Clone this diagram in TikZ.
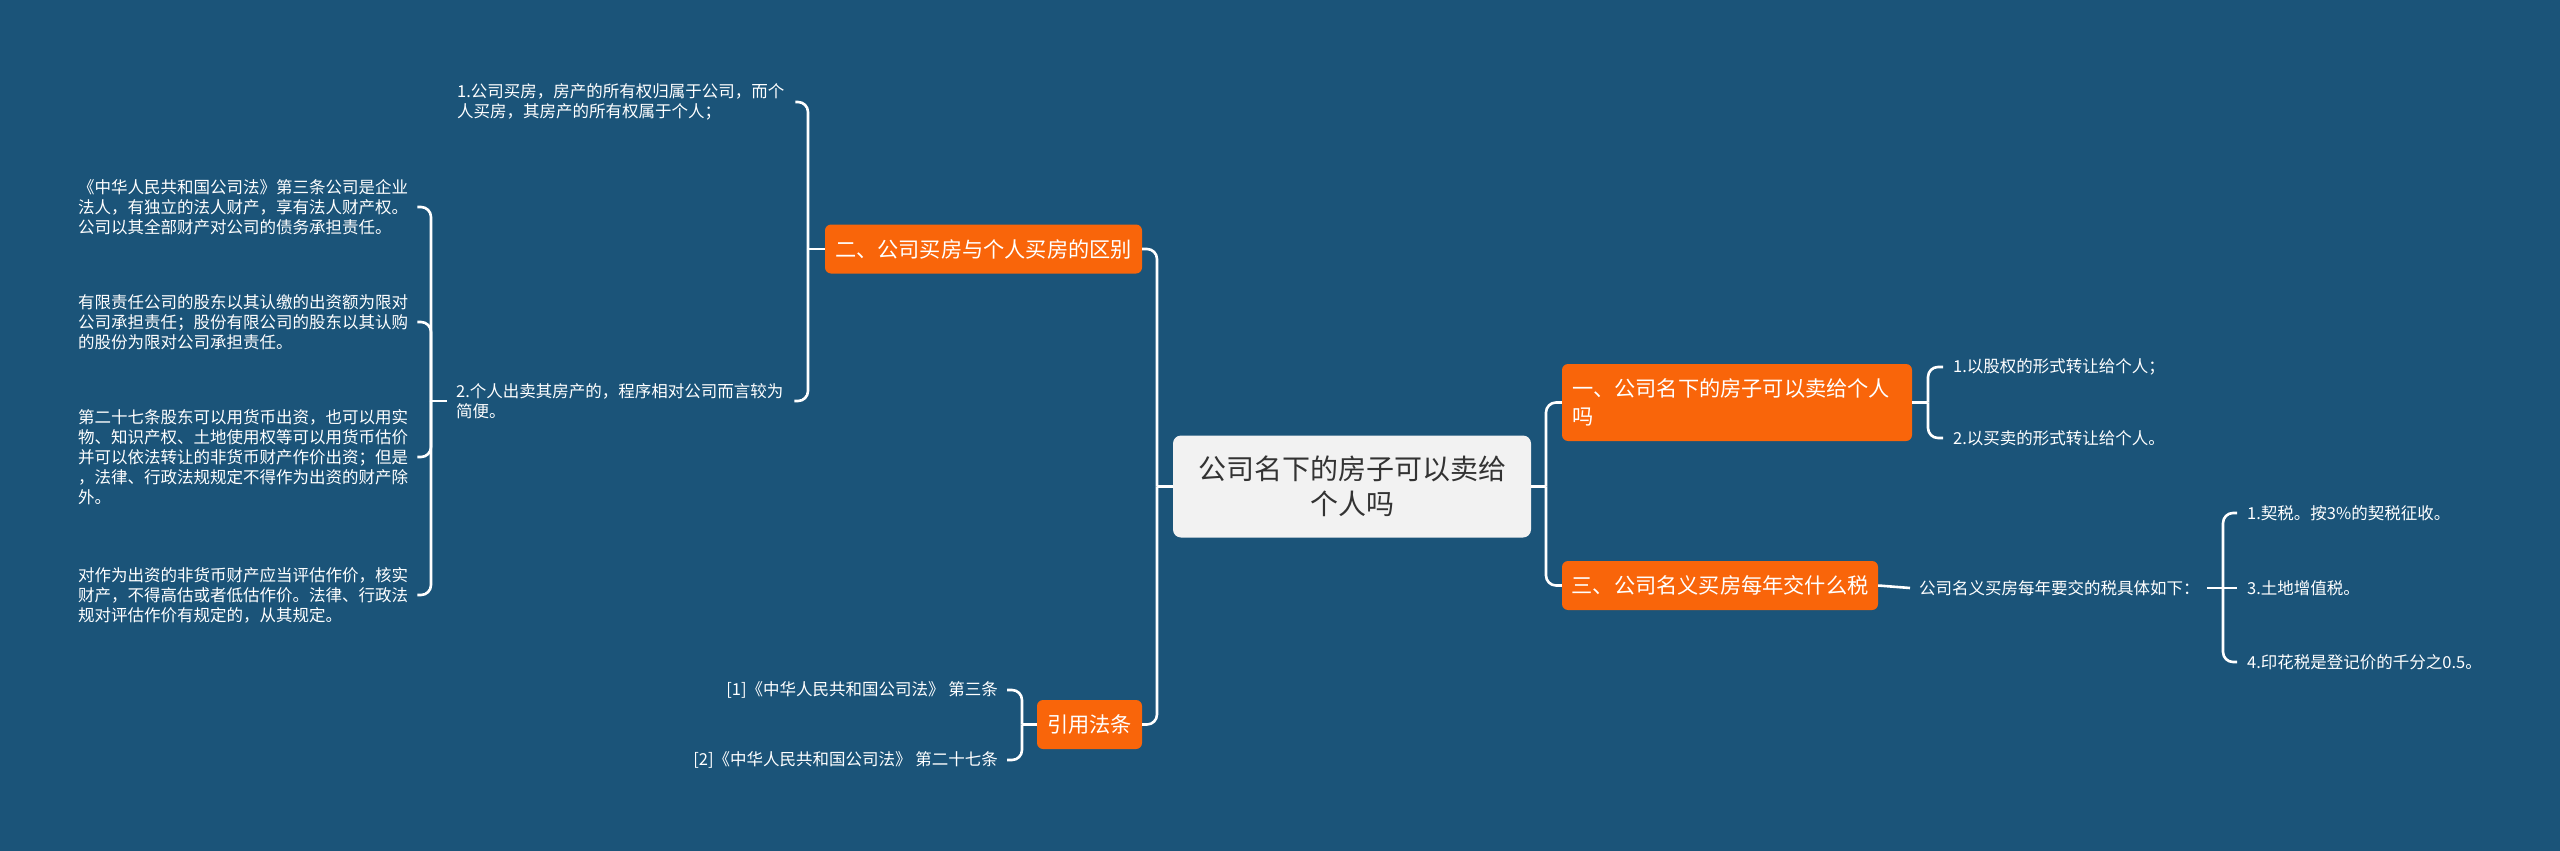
\documentclass[tikz,border=0pt]{standalone}
\usepackage{fontspec}
\setmainfont{Noto Sans CJK SC}
\definecolor{bg}{RGB}{27,84,121}
\definecolor{org}{RGB}{249,101,10}
\definecolor{rootfill}{RGB}{242,242,242}
\definecolor{roottext}{RGB}{51,51,51}
\begin{document}
\begin{tikzpicture}[x=1pt,y=-1pt,
 conn/.style={draw=white,line width=2.6pt,rounded corners=10pt},
 rootbox/.style={fill=rootfill,text=roottext,rounded corners=8pt,minimum width=358pt,minimum height=102pt,align=center,font=\fontsize{28}{35}\selectfont,inner sep=0pt},
 topic/.style={fill=org,text=white,rounded corners=6pt,font=\fontsize{21.2}{28}\selectfont,inner sep=0pt,minimum height=49pt},
 leaf/.style={text=white,font=\fontsize{16.5}{20}\selectfont,inner sep=0pt},
 ]
\fill[bg] (0,0) rectangle (2560,851);
\useasboundingbox (0,0) rectangle (2560,851);

% root and main topics
\node[rootbox] (root) at (1352,486.5) {公司名下的房子可以卖给\\个人吗};
\node[topic,minimum width=317pt] (b2) at (983.5,249) {二、公司买房与个人买房的区别};
\node[topic,minimum width=350pt,minimum height=77pt,text width=330pt,align=left] (b1) at (1737,402.5) {一、公司名下的房子可以卖给个人\\吗};
\node[topic,minimum width=316pt] (b3) at (1720,585.5) {三、公司名义买房每年交什么税};
\node[topic,minimum width=105pt] (b4) at (1089.5,724.5) {引用法条};

% right leaves
\node[leaf,anchor=west] (l1a) at (1953,367) {1.以股权的形式转让给个人；};
\node[leaf,anchor=west] (l1b) at (1953,438) {2.以买卖的形式转让给个人。};
\node[leaf,anchor=west] (l3) at (1919,588) {公司名义买房每年要交的税具体如下：};
\node[leaf,anchor=west] (t1) at (2247,513) {1.契税。按3\%的契税征收。};
\node[leaf,anchor=west] (t3) at (2247,588) {3.土地增值税。};
\node[leaf,anchor=west] (t4) at (2247,662) {4.印花税是登记价的千分之0.5。};

% references
\node[leaf,anchor=east] (r1) at (998,690) {[1]《中华人民共和国公司法》 第三条};
\node[leaf,anchor=east] (r2) at (998,760) {[2]《中华人民共和国公司法》 第二十七条};

% left leaves
\node[leaf,anchor=west,text width=326pt,align=left] (s1) at (457,102) {1.公司买房，房产的所有权归属于公司，而个\\人买房，其房产的所有权属于个人；};
\node[leaf,anchor=west,text width=326pt,align=left] (s2) at (456,401) {2.个人出卖其房产的，程序相对公司而言较为\\简便。};
\node[leaf,anchor=west,text width=330pt,align=left] (d1) at (78,207) {《中华人民共和国公司法》第三条公司是企业\\法人，有独立的法人财产，享有法人财产权。\\公司以其全部财产对公司的债务承担责任。};
\node[leaf,anchor=west,text width=330pt,align=left] (d2) at (78,322) {有限责任公司的股东以其认缴的出资额为限对\\公司承担责任；股份有限公司的股东以其认购\\的股份为限对公司承担责任。};
\node[leaf,anchor=west,text width=330pt,align=left] (d3) at (78,457) {第二十七条股东可以用货币出资，也可以用实\\物、知识产权、土地使用权等可以用货币估价\\并可以依法转让的非货币财产作价出资；但是\\，法律、行政法规规定不得作为出资的财产除\\外。};
\node[leaf,anchor=west,text width=330pt,align=left] (d4) at (78,595) {对作为出资的非货币财产应当评估作价，核实\\财产，不得高估或者低估作价。法律、行政法\\规对评估作价有规定的，从其规定。};

% trunk connectors
\coordinate (tl) at (1157,486.5);
\coordinate (tr) at (1546,486.5);
\draw[conn] (root.west) -- (tl);
\draw[conn] (b2.east) -| (tl);
\draw[conn] (b4.east) -| (tl);
\draw[conn] (root.east) -- (tr);
\draw[conn] (b1.west) -| (tr);
\draw[conn] (b3.west) -| (tr);

% b1 bracket
\coordinate (j1) at (1928,402.5);
\draw[conn] (b1.east) -- (j1);
\draw[conn] ([xshift=-10pt]l1a.west) -| (j1);
\draw[conn] ([xshift=-10pt]l1b.west) -| (j1);

% b3
\draw[conn] (b3.east) -- ([xshift=-9pt]l3.west);
\coordinate (j3) at (2223,588);
\draw[conn] ([xshift=7pt]l3.east) -- (j3) -- ([xshift=-10pt]t3.west);
\draw[conn] ([xshift=-10pt]t1.west) -| (j3);
\draw[conn] ([xshift=-10pt]t4.west) -| (j3);

% b2 bracket
\coordinate (j2) at (808,249);
\draw[conn] (b2.west) -- (j2);
\draw[conn] ([xshift=12pt]s1.east) -| (j2);
\draw[conn] ([xshift=12pt]s2.east) -| (j2);

% s2 bracket
\coordinate (j4) at (431,401);
\draw[conn] ([xshift=-9pt]s2.west) -- (j4);
\draw[conn] ([xshift=9pt]d1.east) -| (j4);
\draw[conn] ([xshift=9pt]d2.east) -| (j4);
\draw[conn] ([xshift=9pt]d3.east) -| (j4);
\draw[conn] ([xshift=9pt]d4.east) -| (j4);

% b4 bracket
\coordinate (j5) at (1022,724.5);
\draw[conn] (b4.west) -- (j5);
\draw[conn] ([xshift=9pt]r1.east) -| (j5);
\draw[conn] ([xshift=9pt]r2.east) -| (j5);
\end{tikzpicture}
\end{document}
